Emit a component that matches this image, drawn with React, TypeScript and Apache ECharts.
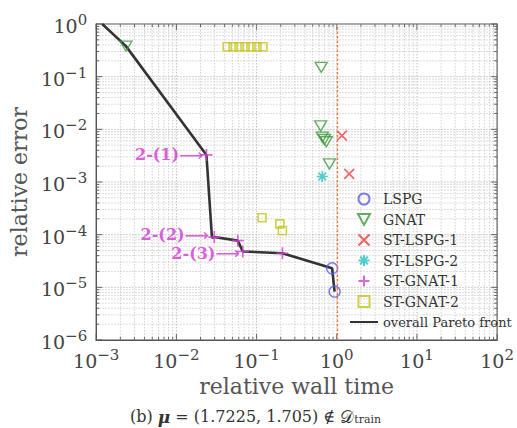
import React, { useEffect, useRef } from "react";
import * as echarts from "echarts";

// ---- data (relative wall time, relative error) ----
const lspgX = [0.875, 0.94];
const lspgY = [2.3e-5, 8.3e-6];
const gnatX = [0.00235, 0.64, 0.63, 0.66, 0.7, 0.74, 0.81];
const gnatY = [0.38, 0.15, 0.0116, 0.0071, 0.0064, 0.0058, 0.0022];
const stLspg1X = [1.16, 1.43];
const stLspg1Y = [0.0076, 0.00143];
const stLspg2X = [0.66];
const stLspg2Y = [0.00127];
const stGnat1X = [0.0237, 0.0297, 0.0583, 0.0673, 0.21];
const stGnat1Y = [3.27e-3, 9.0e-5, 7.7e-5, 4.8e-5, 4.45e-5];
const stGnat2X = [0.043, 0.051, 0.0605, 0.0718, 0.0853, 0.101, 0.12, 0.117, 0.195, 0.21];
const stGnat2Y = [0.37, 0.37, 0.37, 0.37, 0.37, 0.37, 0.37, 2.1e-4, 1.6e-4, 1.2e-4];
const paretoX = [0.00119, 0.00235, 0.0237, 0.0278, 0.0297, 0.0583, 0.0673, 0.21, 0.875, 0.94];
const paretoY = [1.0, 0.38, 3.27e-3, 8.7e-5, 9.0e-5, 7.7e-5, 4.8e-5, 4.45e-5, 2.3e-5, 8.3e-6];
const annotX = [0.0237, 0.0278, 0.0673];
const annotY = [3.27e-3, 8.7e-5, 4.8e-5];
const annotText = ["2-(1)", "2-(2)", "2-(3)"];
const xDecades = [-3, -2, -1, 0, 1, 2];
const yDecades = [-6, -5, -4, -3, -2, -1, 0];
const legendNames = ["LSPG", "GNAT", "ST-LSPG-1", "ST-LSPG-2", "ST-GNAT-1", "ST-GNAT-2", "overall Pareto front"];

const zip = (xs: number[], ys: number[]) => xs.map((x, i) => [x, ys[i]]);

const SERIF = "DejaVu Serif";
const MAGENTA = "#cf35cf";

function gridValues(decades: number[]) {
  const out: { v: number; major: boolean }[] = [];
  for (let i = 0; i < decades.length; i++) {
    const base = Math.pow(10, decades[i]);
    out.push({ v: base, major: true });
    if (i < decades.length - 1) {
      for (let m = 2; m <= 9; m++) out.push({ v: m * base, major: false });
    }
  }
  return out;
}

const expLabel = (v: number) => {
  const e = Math.round(Math.log10(v));
  const s = e < 0 ? "\u2212" + Math.abs(e) : String(e);
  return "{b|10}{s|" + s + "}";
};
const tickRich = {
  b: { fontFamily: SERIF, fontSize: 19, color: "#444", verticalAlign: "bottom", lineHeight: 23 },
  s: { fontFamily: SERIF, fontSize: 15, color: "#444", verticalAlign: "top", lineHeight: 23 },
};

export default function App() {
  const ref = useRef<HTMLDivElement>(null);
  useEffect(() => {
    if (!ref.current) return;
    const chart = echarts.init(ref.current, null, { renderer: "svg" });
    const gridData: number[][] = [];
    gridValues(xDecades).forEach((g) => gridData.push([g.v, 1e-3, 0, g.major ? 1 : 0]));
    gridValues(yDecades).forEach((g) => gridData.push([1, g.v, 1, g.major ? 1 : 0]));

    const hollow = (c: string, w = 1.4) => ({ color: "transparent", borderColor: c, borderWidth: w });
    const annotShift = (i: number) => (i === 1 ? -3 : i === 2 ? 2 : 0);

    chart.setOption({
      animation: false,
      backgroundColor: "#fff",
      grid: { left: 94, right: 19, top: 24, bottom: 88, show: true, borderColor: "#555", borderWidth: 1.2 },
      title: {
        text: "(b) {mu|\u03bc} = (1.7225, 1.705) \u2209 {D|\ud835\udc9f}{sub|train}",
        left: 125,
        top: 403,
        textStyle: {
          fontFamily: SERIF,
          fontSize: 16,
          color: "#333",
          fontWeight: "normal",
          rich: {
            mu: { fontFamily: SERIF, fontSize: 17, fontStyle: "italic", fontWeight: "bold", color: "#333" },
            D: { fontFamily: "DejaVu Sans", fontSize: 17, color: "#333" },
            sub: { fontFamily: SERIF, fontSize: 11, color: "#333", verticalAlign: "bottom", lineHeight: 16, padding: [7, 0, 0, 0] },
          },
        },
      },
      legend: {
        data: legendNames.map((n) =>
          n === "overall Pareto front" ? { name: n, textStyle: { fontSize: 13 } } : { name: n }
        ),
        orient: "vertical",
        left: 344,
        top: 187,
        itemWidth: 28,
        itemHeight: 11,
        itemGap: 6.5,
        symbolKeepAspect: true,
        textStyle: { fontFamily: SERIF, fontSize: 14, lineHeight: 14, color: "#333" },
      },
      xAxis: {
        type: "log",
        logBase: 10,
        min: 1e-3,
        max: 1e2,
        splitNumber: 5,
        name: "relative wall time",
        nameLocation: "middle",
        nameGap: 35,
        nameTextStyle: { fontFamily: SERIF, fontSize: 22, color: "#555" },
        axisLine: { show: true, lineStyle: { color: "#555" } },
        axisTick: { show: false },
        splitLine: { show: false },
        axisLabel: { margin: 7, formatter: expLabel, rich: tickRich, showMinLabel: true, showMaxLabel: true },
      },
      yAxis: {
        type: "log",
        logBase: 10,
        min: 1e-6,
        max: 1,
        splitNumber: 6,
        name: "relative error",
        nameLocation: "middle",
        nameGap: 62,
        nameTextStyle: { fontFamily: SERIF, fontSize: 22, color: "#555" },
        axisLine: { show: true, lineStyle: { color: "#555" } },
        axisTick: { show: false },
        splitLine: { show: false },
        axisLabel: { margin: 9, formatter: expLabel, rich: tickRich, showMinLabel: true, showMaxLabel: true },
      },
      series: [
        {
          name: "grid",
          type: "custom",
          silent: true,
          z: 0,
          data: gridData,
          encode: { x: 0, y: 1 },
          renderItem: (params: any, api: any) => {
            const cs = params.coordSys;
            const kind = api.value(2);
            const major = api.value(3) === 1;
            const len = major ? 6 : 3;
            const p = api.coord([api.value(0), api.value(1)]);
            const gridStyle = { stroke: major ? "#b0b0b0" : "#c6c6c6", lineWidth: 0.8, lineDash: [1.5, 1.5] };
            const tickStyle = { stroke: "#555", lineWidth: 0.9 };
            if (kind === 0) {
              const x = p[0];
              const y0 = cs.y;
              const y1 = cs.y + cs.height;
              return {
                type: "group",
                children: [
                  { type: "line", shape: { x1: x, y1: y0, x2: x, y2: y1 }, style: gridStyle },
                  { type: "line", shape: { x1: x, y1: y1, x2: x, y2: y1 - len }, style: tickStyle },
                  { type: "line", shape: { x1: x, y1: y0, x2: x, y2: y0 + len }, style: tickStyle },
                ],
              };
            }
            const y = p[1];
            const x0 = cs.x;
            const x1 = cs.x + cs.width;
            return {
              type: "group",
              children: [
                { type: "line", shape: { x1: x0, y1: y, x2: x1, y2: y }, style: gridStyle },
                { type: "line", shape: { x1: x0, y1: y, x2: x0 + len, y2: y }, style: tickStyle },
                { type: "line", shape: { x1: x1, y1: y, x2: x1 - len, y2: y }, style: tickStyle },
              ],
            };
          },
        },
        {
          name: "overall Pareto front",
          type: "line",
          data: zip(paretoX, paretoY),
          symbol: "none",
          z: 3,
          lineStyle: { color: "#333", width: 2.6 },
          itemStyle: { color: "transparent", borderWidth: 0 },
          markLine: {
            silent: true,
            symbol: "none",
            label: { show: false },
            lineStyle: { color: "#f5783a", type: [2.5, 2], width: 1.3, opacity: 1 },
            emphasis: { disabled: true },
            data: [{ xAxis: 1 }],
          },
        },
        {
          name: "LSPG",
          type: "scatter",
          z: 4,
          symbol: "circle",
          symbolSize: 11,
          symbolKeepAspect: true,
          itemStyle: hollow("#5b5bf0"),
          data: zip(lspgX, lspgY),
        },
        {
          name: "GNAT",
          type: "scatter",
          z: 4,
          symbol: "path://M0,0L12,0L6,11Z",
          symbolSize: [12, 11],
          symbolKeepAspect: true,
          itemStyle: hollow("#3d9a3d"),
          data: zip(gnatX, gnatY),
        },
        {
          name: "ST-LSPG-1",
          type: "scatter",
          z: 4,
          symbol: "path://M0,0L10,10M10,0L0,10",
          symbolSize: 10,
          symbolKeepAspect: true,
          itemStyle: hollow("#ec4040", 1.6),
          data: zip(stLspg1X, stLspg1Y),
        },
        {
          name: "ST-LSPG-2",
          type: "scatter",
          z: 4,
          symbol: "path://M5,0L5,10M0,5L10,5M1.5,1.5L8.5,8.5M8.5,1.5L1.5,8.5",
          symbolSize: 11,
          symbolKeepAspect: true,
          itemStyle: hollow("#22c2c2", 1.6),
          data: zip(stLspg2X, stLspg2Y),
        },
        {
          name: "ST-GNAT-1",
          type: "scatter",
          z: 4,
          symbol: "path://M5,0L5,10M0,5L10,5",
          symbolSize: 12,
          symbolKeepAspect: true,
          itemStyle: hollow("#cc44cc", 1.6),
          data: zip(stGnat1X, stGnat1Y),
        },
        {
          name: "ST-GNAT-2",
          type: "scatter",
          z: 4,
          symbol: "path://M0,0L10,0L10,10L0,10Z",
          symbolSize: 8,
          symbolKeepAspect: true,
          itemStyle: hollow("#c4c41a", 1.6),
          data: zip(stGnat2X, stGnat2Y),
        },
        {
          name: "annotations",
          type: "scatter",
          z: 5,
          silent: true,
          symbolSize: 0,
          data: annotX.map((x, i) => ({
            value: [x, annotY[i]],
            name: annotText[i],
            label: { offset: [0, annotShift(i)] },
          })),
          label: {
            show: true,
            position: "left",
            distance: 3,
            formatter: (p: any) => "{t|" + p.name + "}{a|\u27f6}",
            rich: {
              t: { fontFamily: SERIF, fontWeight: "bold", fontSize: 16, lineHeight: 15, color: MAGENTA },
              a: { fontFamily: "DejaVu Sans", fontSize: 17, lineHeight: 15, color: MAGENTA },
            },
          },
        },
      ],
    });
    return () => chart.dispose();
  }, []);
  return <div ref={ref} style={{ position: "absolute", left: 0, top: 0, width: 517, height: 428 }} />;
}
